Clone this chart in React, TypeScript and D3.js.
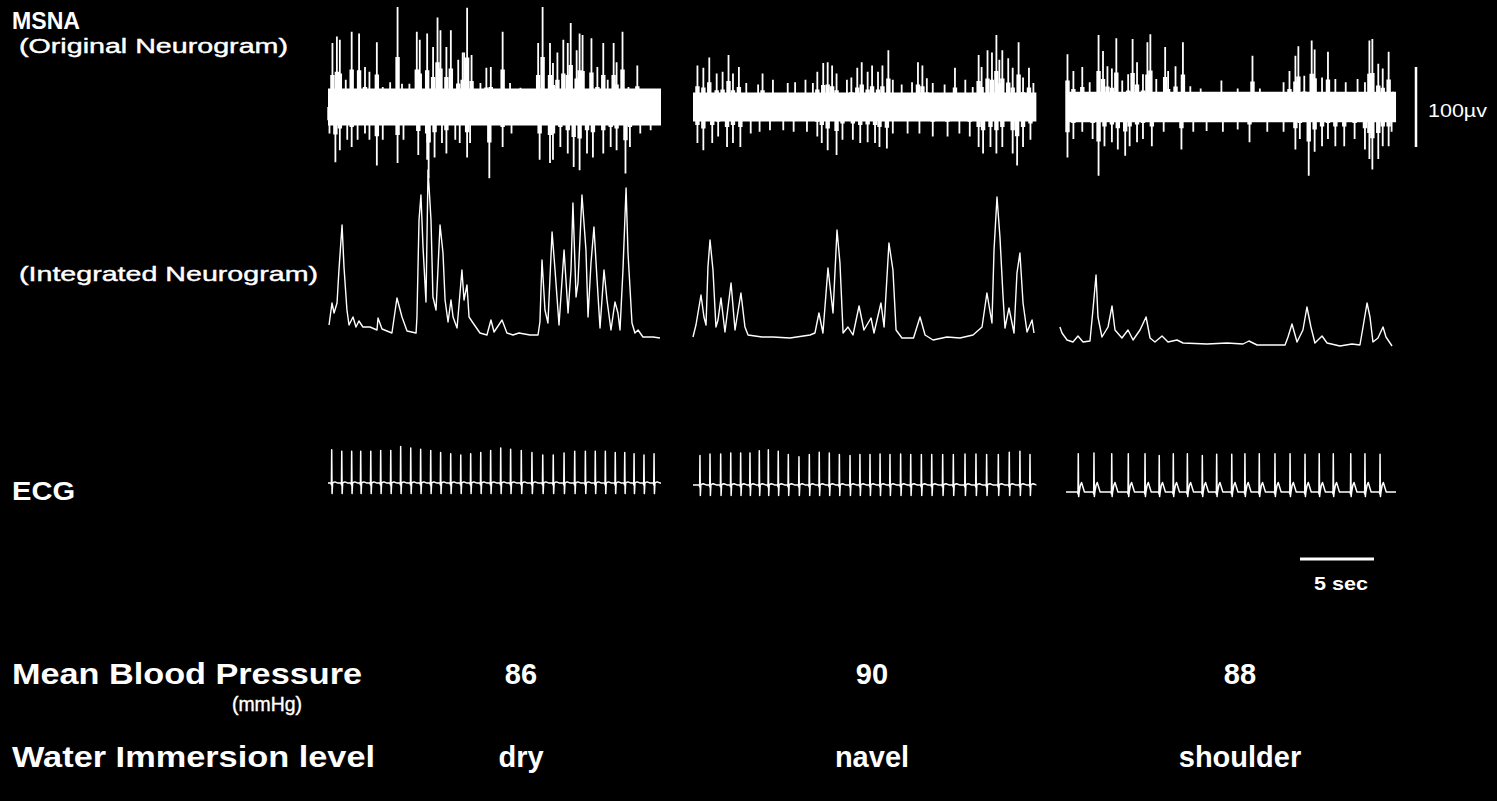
import React from 'react';
import * as d3 from 'd3';

// ---------- recording data ----------
const conditions = ['dry', 'navel', 'shoulder'];
const meanBloodPressure = [86, 90, 88];
const recordLengthSec = [22.5, 23.2, 22.3];

// Original neurogram: background noise half-width (µV) and spike peaks [time s, µV]
const rawNoiseUv = [23, 18, 19];

const rawUpDry: [number, number][] = [
  [0.3, 80], [0.6, 88], [0.8, 84], [1.2, 34], [1.6, 94], [2.1, 92], [2.5, 50], [2.8, 44], [3.3, 81], [3.7, 25],
  [4.2, 31], [4.7, 125], [5.0, 29], [5.5, 29], [6.0, 94], [6.2, 84], [6.7, 92], [7.1, 75], [7.4, 112], [7.6, 96],
  [8.0, 75], [8.3, 96], [8.8, 59], [9.1, 68], [9.2, 68], [9.4, 124], [9.7, 65], [10.3, 30], [10.7, 49], [11.0, 50],
  [11.8, 94], [12.3, 30], [13.0, 24], [13.6, 21], [14.2, 80], [14.5, 125], [15.0, 80], [15.2, 55], [15.5, 68], [15.9, 84],
  [16.2, 80], [16.4, 105], [16.8, 71], [17.0, 92], [17.2, 90], [17.8, 86], [18.2, 50], [18.6, 80], [18.9, 34], [19.3, 80],
  [19.5, 56], [19.9, 94], [20.3, 25], [20.9, 52], [21.3, 21], [21.8, 19],
];
const rawDownDry: [number, number][] = [
  [0.1, 33], [0.5, 69], [0.8, 54], [1.3, 41], [1.6, 50], [2.0, 41], [2.5, 33], [2.8, 41], [3.3, 73], [3.7, 41],
  [4.7, 70], [5.1, 41], [6.1, 60], [6.7, 66], [6.8, 89], [7.2, 63], [7.7, 45], [8.0, 58], [8.6, 41], [8.9, 45],
  [9.4, 63], [9.6, 45], [10.9, 89], [11.8, 50], [12.4, 33], [14.3, 66], [15.0, 70], [15.2, 66], [15.7, 50], [16.2, 58],
  [16.6, 75], [17.0, 79], [17.5, 58], [17.9, 63], [18.6, 58], [19.1, 50], [19.5, 54], [20.1, 83], [20.4, 50], [21.1, 33],
  [21.8, 29],
];
const rawUpNavel: [number, number][] = [
  [0.3, 52], [0.7, 49], [1.1, 62], [1.6, 42], [2.0, 44], [2.4, 65], [2.7, 42], [3.1, 50], [3.6, 30], [4.4, 28],
  [4.7, 42], [5.4, 34], [6.4, 30], [6.9, 31], [7.6, 34], [8.1, 30], [8.4, 44], [8.8, 55], [9.1, 56], [9.4, 52],
  [9.7, 42], [10.4, 34], [10.7, 37], [11.1, 49], [11.4, 56], [11.8, 44], [12.1, 52], [12.5, 44], [12.8, 52], [13.2, 71],
  [13.5, 34], [14.1, 28], [14.8, 31], [15.2, 56], [15.5, 52], [15.8, 36], [16.2, 30], [17.0, 28], [17.7, 49], [18.4, 34],
  [18.9, 25], [19.3, 65], [19.5, 50], [19.9, 71], [20.2, 68], [20.5, 90], [20.7, 59], [20.9, 71], [21.3, 61], [21.6, 49],
  [22.0, 81], [22.3, 37], [22.7, 49], [23.0, 30],
];
const rawDownNavel: [number, number][] = [
  [0.3, 45], [0.7, 54], [1.3, 45], [1.7, 37], [2.3, 50], [2.7, 45], [3.2, 50], [3.9, 33], [4.5, 31], [5.2, 29],
  [6.1, 29], [6.8, 31], [7.7, 31], [8.4, 37], [8.7, 45], [9.1, 54], [9.7, 60], [10.1, 41], [10.8, 41], [11.3, 45],
  [11.8, 44], [12.3, 45], [12.6, 50], [13.1, 52], [13.5, 33], [14.5, 33], [15.3, 33], [16.2, 37], [17.2, 37], [18.0, 33],
  [18.7, 37], [19.3, 50], [19.6, 58], [20.1, 50], [20.5, 58], [20.9, 50], [21.6, 58], [21.9, 73], [22.3, 50], [22.8, 41],
];
const rawUpShoulder: [number, number][] = [
  [0.1, 66], [0.5, 45], [1.1, 50], [1.6, 31], [2.2, 90], [2.5, 70], [2.8, 51], [3.1, 48], [3.4, 86], [3.8, 33],
  [4.2, 41], [4.5, 85], [4.8, 56], [5.2, 41], [5.5, 81], [5.7, 91], [6.1, 35], [6.7, 75], [6.9, 45], [7.4, 51],
  [7.9, 81], [8.4, 26], [9.1, 23], [10.5, 33], [11.6, 23], [12.6, 64], [13.1, 23], [14.7, 31], [15.1, 45], [15.5, 64],
  [15.7, 76], [16.1, 39], [16.6, 83], [16.8, 72], [17.3, 37], [17.7, 69], [18.2, 35], [18.9, 31], [19.7, 35], [20.2, 31],
  [20.5, 83], [20.7, 85], [21.1, 54], [21.4, 48], [21.8, 69], [22.1, 19],
];
const rawDownShoulder: [number, number][] = [
  [0.1, 63], [0.5, 40], [1.1, 31], [1.8, 40], [2.2, 86], [2.6, 49], [3.1, 44], [3.5, 53], [4.0, 61], [4.3, 49],
  [4.8, 44], [5.2, 40], [5.8, 49], [6.6, 31], [7.8, 53], [8.6, 31], [9.5, 30], [10.6, 31], [11.6, 28], [12.4, 44],
  [13.6, 31], [14.7, 31], [15.5, 53], [15.8, 40], [16.4, 86], [16.8, 56], [17.3, 49], [17.7, 40], [18.2, 49], [18.8, 49],
  [19.5, 40], [20.2, 53], [20.5, 65], [20.7, 78], [21.1, 65], [21.4, 49], [21.8, 49], [22.0, 31],
];

// Integrated neurogram [time s, arbitrary units]
const integratedDry: [number, number][] = [
  [0.07, 25], [0.27, 47], [0.41, 37], [0.61, 47], [0.74, 80], [0.95, 125], [1.08, 83], [1.28, 40], [1.42, 25], [1.69, 33],
  [1.89, 23], [2.09, 29], [2.36, 23], [2.84, 23], [3.31, 20], [3.38, 32], [3.65, 21], [4.32, 17], [4.66, 52], [5.0, 33],
  [5.34, 19], [5.95, 17], [6.01, 33], [6.15, 130], [6.28, 155], [6.42, 103], [6.62, 48], [6.76, 180], [6.96, 130], [7.09, 53],
  [7.3, 40], [7.57, 125], [7.77, 97], [7.91, 50], [8.11, 28], [8.31, 50], [8.45, 33], [8.72, 22], [9.05, 80], [9.19, 50],
  [9.39, 65], [9.53, 33], [9.8, 27], [10.27, 17], [10.74, 15], [11.01, 30], [11.22, 18], [11.76, 30], [12.09, 17], [12.5, 15],
  [12.9, 17], [13.65, 15], [14.19, 15], [14.32, 28], [14.46, 90], [14.66, 40], [14.86, 27], [15.14, 118], [15.34, 80], [15.61, 25],
  [15.95, 100], [16.22, 37], [16.42, 80], [16.55, 147], [16.76, 53], [16.89, 67], [17.16, 155], [17.43, 100], [17.57, 33], [17.77, 87],
  [17.97, 123], [18.18, 70], [18.38, 22], [18.65, 80], [18.85, 50], [19.12, 20], [19.39, 48], [19.59, 37], [19.73, 20], [19.93, 80],
  [20.14, 162], [20.27, 97], [20.54, 27], [20.74, 17], [20.95, 20], [21.28, 13], [21.96, 13], [22.43, 12],
];
const integratedNavel: [number, number][] = [
  [0, 13], [0.2, 25], [0.54, 55], [0.74, 33], [0.88, 25], [1.01, 83], [1.15, 110], [1.35, 80], [1.55, 23], [1.69, 30],
  [1.89, 52], [2.16, 18], [2.57, 67], [2.84, 20], [3.24, 57], [3.51, 23], [3.72, 15], [4.66, 13], [5.41, 13], [6.55, 12],
  [7.91, 15], [8.24, 17], [8.51, 37], [8.78, 17], [9.12, 82], [9.46, 37], [9.73, 120], [9.93, 87], [10.14, 17], [10.47, 23],
  [10.81, 15], [11.22, 44], [11.55, 20], [12.03, 32], [12.23, 17], [12.7, 47], [12.91, 23], [13.24, 107], [13.51, 80], [13.72, 20],
  [14.12, 12], [14.9, 12], [15.34, 33], [15.68, 15], [16.22, 10], [17.16, 13], [18.04, 12], [18.92, 15], [19.53, 23], [19.86, 57],
  [20.2, 27], [20.34, 100], [20.54, 153], [20.74, 113], [20.95, 53], [21.08, 22], [21.35, 42], [21.69, 17], [21.89, 77], [22.09, 97],
  [22.3, 47], [22.57, 18], [22.91, 30], [23.04, 17],
];
const integratedShoulder: [number, number][] = [
  [-0.41, 23], [-0.27, 17], [0.07, 10], [0.47, 8], [0.81, 14], [1.15, 8], [1.62, 9], [1.82, 40], [2.03, 75], [2.16, 33],
  [2.43, 13], [2.84, 23], [3.11, 44], [3.31, 20], [3.78, 12], [4.19, 20], [4.53, 10], [5.0, 20], [5.41, 33], [5.68, 12],
  [6.01, 8], [6.49, 14], [6.89, 8], [7.5, 10], [7.91, 7], [9.53, 6], [10.88, 7], [11.96, 6], [12.36, 9], [12.91, 5],
  [14.8, 5], [15.0, 13], [15.27, 26], [15.61, 8], [16.01, 20], [16.28, 43], [16.55, 23], [16.82, 7], [17.3, 14], [17.64, 7],
  [18.51, 4], [19.32, 6], [19.86, 5], [20.07, 23], [20.34, 47], [20.54, 33], [20.74, 8], [21.08, 12], [21.42, 23], [21.62, 13],
  [22.03, 4],
];

// ECG: R-wave times (s), R amplitudes (mV), and per-record wave parameters (mV)
const ecgBeatsDry = [0.25, 0.93, 1.6, 2.21, 2.89, 3.56, 4.24, 4.91, 5.59, 6.26, 6.94, 7.61, 8.29, 8.97, 9.64, 10.32, 10.99,
  11.67, 12.34, 13.06, 13.78, 14.51, 15.22, 15.95, 16.67, 17.39, 18.06, 18.74, 19.41, 20.05, 20.68, 21.35, 22.03];
const ecgRDry = [1.11, 1.06, 1.06, 1.06, 1.06, 1.09, 1.09, 1.22, 1.17, 1.13, 1.09, 1.02, 0.98, 0.94, 0.98, 1.02, 1.09,
  1.17, 1.13, 1.09, 1.02, 0.94, 0.94, 1.0, 1.06, 1.06, 1.06, 1.06, 1.02, 1.02, 0.98, 0.94, 0.98];
const ecgBeatsNavel = [0.47, 1.15, 1.87, 2.55, 3.22, 3.85, 4.48, 5.09, 5.76, 6.44, 7.16, 7.86, 8.53, 9.21, 9.89, 10.61, 11.28,
  11.96, 12.64, 13.31, 14.03, 14.71, 15.43, 16.13, 16.87, 17.59, 18.38, 19.12, 19.84, 20.63, 21.37, 22.09, 22.77];
const ecgRNavel = [0.98, 1.03, 1.03, 1.06, 1.06, 1.06, 1.14, 1.17, 1.12, 1.01, 0.94, 1.01, 1.09, 1.06, 1.01, 0.98, 1.01,
  1.01, 1.03, 1.01, 1.03, 1.01, 1.01, 1.01, 1.01, 1.01, 1.03, 1.03, 1.01, 1.01, 1.09, 1.12, 1.01];
const ecgBeatsShoulder = [0.83, 1.89, 3.09, 4.21, 5.34, 6.3, 7.25, 8.2, 9.21, 10.18, 11.2, 12.09, 13.06, 14.12, 15.14, 16.15,
  17.11, 18.06, 19.24, 20.2, 21.22];
const ecgRShoulder = [1.28, 1.3, 1.28, 1.28, 1.28, 1.22, 1.28, 1.28, 1.22, 1.26, 1.26, 1.28, 1.28, 1.28, 1.28, 1.26, 1.28,
  1.28, 1.28, 1.28, 1.26];
const ecgOffset = [0.03, -0.03, -0.27];
const ecgSDepth = [0.35, 0.35, 0.15];
const ecgTHeight = [0.04, 0.04, 0.32];

// scale-bar values
const voltBarUv = 100;
const timeBarSec = 5;

const rawUp = [rawUpDry, rawUpNavel, rawUpShoulder];
const rawDown = [rawDownDry, rawDownNavel, rawDownShoulder];
const integrated = [integratedDry, integratedNavel, integratedShoulder];
const ecgBeats = [ecgBeatsDry, ecgBeatsNavel, ecgBeatsShoulder];
const ecgR = [ecgRDry, ecgRNavel, ecgRShoulder];

const FONT = "'Liberation Sans', Arial, Helvetica, sans-serif";

function ecgTrace(beats: number[], rs: number[], off: number, s: number, tw: number, dur: number) {
  const pts: [number, number][] = [[0, off]];
  beats.forEach((t, i) => {
    pts.push(
      [t - 0.05, off], [t - 0.02, off - 0.06], [t, off + rs[i]], [t + 0.025, off - s], [t + 0.06, off],
      [t + 0.14, off + tw * 0.7], [t + 0.22, off + tw], [t + 0.42, off],
    );
  });
  pts.push([dur, off]);
  return pts.filter((p) => p[0] >= 0 && p[0] <= dur);
}

export default function App() {
  const W = 1497;
  const H = 801;
  const panelX = [328, 693, 1066];
  const pxPerSec = 14.8;
  const rawMid = 107;
  const uvPx = 0.8;

  const xs = recordLengthSec.map((d, i) =>
    d3.scaleLinear().domain([0, d]).range([panelX[i], panelX[i] + d * pxPerSec]),
  );
  const yRaw = d3.scaleLinear().domain([-100, 100]).range([rawMid + 100 * uvPx, rawMid - 100 * uvPx]);
  const yInt = d3.scaleLinear().domain([0, 180]).range([350, 170]);
  const yEcg = d3.scaleLinear().domain([0, 1]).range([484, 454]);

  // one spike: a thin stem over a wider base, like a burst in the raw trace
  const spikePath = (x: number, amp: number, dir: number) => {
    const y0 = yRaw(0);
    const yTop = yRaw(dir * amp);
    const yMid = yRaw(dir * amp * 0.5);
    return `M${x - 2.2},${y0}L${x - 2.2},${yMid}L${x - 0.9},${yMid}L${x - 0.9},${yTop}L${x + 0.9},${yTop}L${x + 0.9},${yMid}L${x + 2.2},${yMid}L${x + 2.2},${y0}Z`;
  };

  const valueX = [521, 872, 1240];
  const timeBar = d3.scaleLinear().domain([0, timeBarSec]).range([1300, 1300 + timeBarSec * pxPerSec]);

  return (
    <svg width={W} height={H} style={{ position: 'absolute', left: 0, top: 0, background: '#000' }}>
      <rect x={0} y={0} width={W} height={H} fill="#000" />

      {conditions.map((c, i) => {
        const x = xs[i];
        const dur = recordLengthSec[i];
        const area = d3.area<number>().x((t) => x(t)).y0(yRaw(-rawNoiseUv[i])).y1(yRaw(rawNoiseUv[i]));
        const line = d3.line<[number, number]>().x((d) => x(d[0])).y((d) => yInt(d[1]));
        const ecgLine = d3.line<[number, number]>().x((d) => x(d[0])).y((d) => yEcg(d[1]));
        const ecg = ecgTrace(ecgBeats[i], ecgR[i], ecgOffset[i], ecgSDepth[i], ecgTHeight[i], dur);
        return (
          <g key={c}>
            <path d={area([0, dur]) || ''} fill="#fff" />
            {rawUp[i].map((d, k) => (
              <path key={'u' + k} d={spikePath(x(d[0]), d[1], 1)} fill="#fff" />
            ))}
            {rawDown[i].map((d, k) => (
              <path key={'d' + k} d={spikePath(x(d[0]), d[1], -1)} fill="#fff" />
            ))}
            <path d={line(integrated[i]) || ''} fill="none" stroke="#fff" strokeWidth={1.4} strokeLinejoin="round" />
            <path d={ecgLine(ecg) || ''} fill="none" stroke="#fff" strokeWidth={1.5} strokeLinejoin="round" />
          </g>
        );
      })}

      {/* calibration bars */}
      <line x1={1416} x2={1416} y1={yRaw(-voltBarUv / 2)} y2={yRaw(voltBarUv / 2)} stroke="#fff" strokeWidth={2.5} />
      <text x={1428} y={117} fill="#fff" fontFamily={FONT} fontSize={18} textLength={59} lengthAdjust="spacingAndGlyphs">100µv</text>
      <line x1={timeBar(0)} x2={timeBar(timeBarSec)} y1={559} y2={559} stroke="#fff" strokeWidth={3} />
      <text x={1314} y={590} fill="#fff" fontFamily={FONT} fontSize={18} fontWeight="bold" textLength={54} lengthAdjust="spacingAndGlyphs">{`${timeBarSec} sec`}</text>

      {/* row labels */}
      <g fill="#fff" fontFamily={FONT}>
        <text x={12} y={29} fontSize={23} fontWeight="bold" textLength={68} lengthAdjust="spacingAndGlyphs">MSNA</text>
        <text x={19} y={53} fontSize={20} stroke="#fff" strokeWidth={0.4} textLength={269} lengthAdjust="spacingAndGlyphs">(Original Neurogram)</text>
        <text x={19} y={281} fontSize={21} stroke="#fff" strokeWidth={0.4} textLength={299} lengthAdjust="spacingAndGlyphs">(Integrated Neurogram)</text>
        <text x={12} y={500} fontSize={26} fontWeight="bold" textLength={63} lengthAdjust="spacingAndGlyphs">ECG</text>
        <text x={12} y={684} fontSize={29} fontWeight="bold" textLength={350} lengthAdjust="spacingAndGlyphs">Mean Blood Pressure</text>
        <text x={232} y={711} fontSize={20} stroke="#fff" strokeWidth={0.4} textLength={70} lengthAdjust="spacingAndGlyphs">(mmHg)</text>
        <text x={12} y={767} fontSize={29} fontWeight="bold" textLength={363} lengthAdjust="spacingAndGlyphs">Water Immersion level</text>
        {conditions.map((c, i) => (
          <g key={c}>
            <text x={valueX[i]} y={684} fontSize={29} fontWeight="bold" textAnchor="middle">{meanBloodPressure[i]}</text>
            <text x={valueX[i]} y={767} fontSize={29} fontWeight="bold" textAnchor="middle">{c}</text>
          </g>
        ))}
      </g>
    </svg>
  );
}
